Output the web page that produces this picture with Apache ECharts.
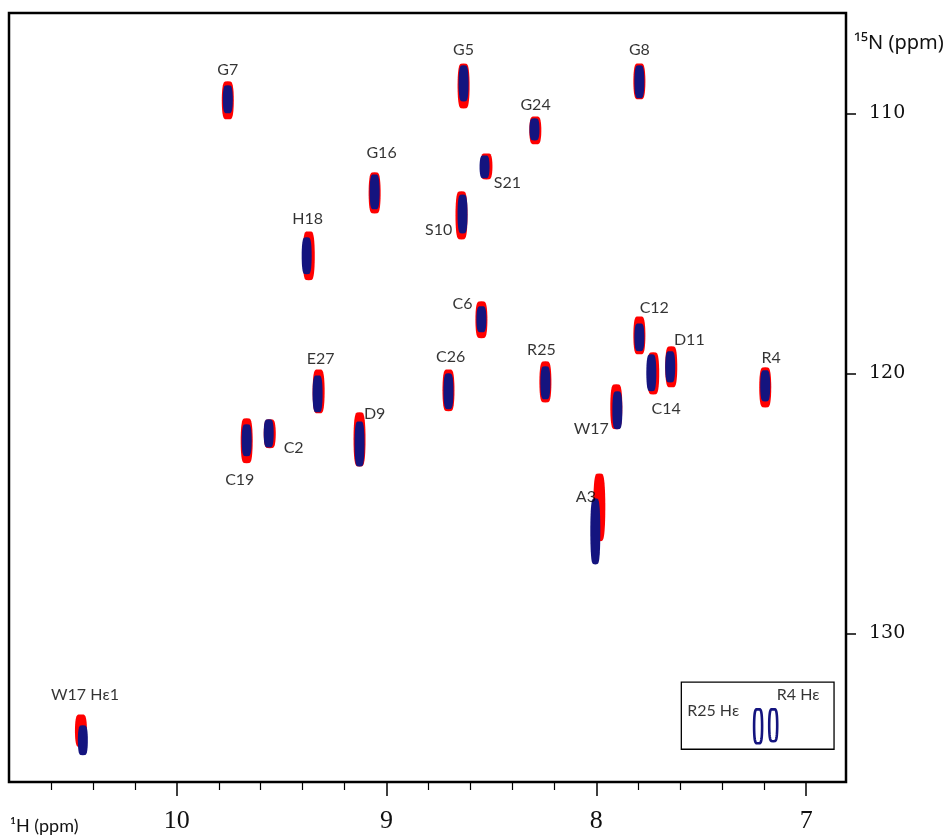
<!DOCTYPE html>
<html>
<head>
<meta charset="utf-8">
<script src="https://cdn.jsdelivr.net/npm/echarts@6/dist/echarts.min.js"></script>
<style>
html,body{margin:0;padding:0;background:#fff;}
#chart{width:952px;height:837px;}
</style>
</head>
<body>
<div id="chart"></div>
<script>
// 1H ppm axis ticks
const xMajorTicks = [7, 8, 9, 10];
const xMinorTicks = [7.2, 7.4, 7.6, 7.8, 8.2, 8.4, 8.6, 8.8, 9.2, 9.4, 9.6, 9.8, 10.2, 10.4, 10.6];
// 15N ppm axis ticks
const yMajorTicks = [110, 120, 130];

// Peak names (residue assignments)
const peakNames = ['G7','G5','G8','G24','S21','G16','S10','H18','C6','C12','D11','C14','R25','R4','C26','E27','W17','C19','C2','D9','A3','W17 Hε1'];

// Red spectrum peaks: [1H ppm, 15N top ppm, 15N bottom ppm]
const redPeaks = [
  [9.757,108.77,110.23],[8.633,108.08,109.81],[7.795,108.08,109.46],[8.291,110.12,111.19],
  [8.524,111.54,112.54],[9.057,112.27,113.85],[8.643,113.0,114.85],[9.371,114.54,116.42],
  [8.548,117.23,118.65],[7.795,117.81,119.27],[7.643,118.96,120.54],[7.729,119.19,120.81],
  [8.243,119.54,121.12],[7.195,119.77,121.31],[8.705,119.85,121.46],[9.324,119.85,121.54],
  [7.905,120.42,122.15],[9.667,121.73,123.46],[9.557,121.77,122.88],[9.129,121.5,123.58],
  [7.986,123.85,126.46],[10.457,133.12,134.38]
];
// Blue spectrum peaks: [1H ppm, 15N top ppm, 15N bottom ppm]
const bluePeaks = [
  [9.757,108.92,110.0],[8.633,108.15,109.54],[7.795,108.15,109.42],[8.295,110.19,111.04],
  [8.533,111.62,112.5],[9.057,112.35,113.69],[8.638,113.12,114.62],[9.381,114.77,116.19],
  [8.548,117.42,118.42],[7.795,118.08,119.15],[7.648,119.15,120.35],[7.738,119.27,120.69],
  [8.243,119.73,121.0],[7.195,119.88,121.08],[8.705,120.0,121.38],[9.329,120.08,121.5],
  [7.9,120.69,122.15],[9.667,121.96,123.19],[9.562,121.77,122.85],[9.129,121.85,123.58],
  [8.005,124.81,127.35],[10.448,133.54,134.69]
];
// Arginine side-chain Hε peaks (inset, blue only)
const insetPeaks = [[7.229,132.92,134.23],[7.157,132.92,134.15]];
// Inset box corners: [1H left, 15N top, 1H right, 15N bottom]
const insetBox = [[7.595,131.88,6.867,134.46]];

// Label texts and anchor positions (ppm)
const labelText = ['G7','G5','G8','G24','S21','G16','S10','H18','C6','C12','D11','C14','R25','R4','C26','E27','W17','C19','C2','D9','A3','W17 Hε1','R25 Hε','R4 Hε'];
const labelX = [9.757,8.633,7.795,8.29,8.424,9.024,8.752,9.376,8.638,7.724,7.557,7.667,8.262,7.167,8.695,9.314,8.024,9.70,9.443,9.057,8.05,10.438,7.443,7.038];
const labelY = [108.31,107.54,107.54,109.69,112.69,111.5,114.5,114.04,117.31,117.5,118.73,121.35,119.08,119.42,119.38,119.46,122.15,124.08,122.85,121.54,124.77,132.38,133.0,132.38];

const RED = '#ff0000';
const BLUE = '#14147f';

function blobRenderer(widthPx, color, hollow) {
  return function (params, api) {
    const x = api.value(0);
    const p1 = api.coord([x, api.value(1)]);
    const p2 = api.coord([x, api.value(2)]);
    const cx = p1[0];
    const cy = (p1[1] + p2[1]) / 2;
    const ry = Math.abs(p2[1] - p1[1]) / 2;
    const rx = widthPx / 2;
    const pts = [];
    const n = 48;
    for (let i = 0; i < n; i++) {
      const t = (i / n) * Math.PI * 2;
      const c = Math.cos(t), s = Math.sin(t);
      pts.push([cx + rx * Math.sign(c) * Math.pow(Math.abs(c), 0.4), cy + ry * s]);
    }
    return {
      type: 'polygon',
      shape: { points: pts },
      style: hollow ? { fill: 'none', stroke: color, lineWidth: 2.6 } : { fill: color }
    };
  };
}

const chart = echarts.init(document.getElementById('chart'), null, { renderer: 'canvas' });

const xCommon = { type: 'value', inverse: true, min: 6.81, max: 10.8, position: 'bottom', splitLine: { show: false }, axisLine: { show: false } };

chart.setOption({
  animation: false,
  backgroundColor: '#ffffff',
  grid: { left: 9, top: 13, right: 106, bottom: 55, show: true, borderColor: '#000', borderWidth: 2.5, backgroundColor: 'transparent' },
  xAxis: [
    Object.assign({}, xCommon, {
      axisTick: { show: true, inside: false, length: 14, customValues: xMajorTicks, lineStyle: { color: '#000', width: 1.5 } },
      axisLabel: { show: true, customValues: xMajorTicks, margin: 26, fontFamily: 'Liberation Serif', fontSize: 26, color: '#111' }
    }),
    Object.assign({}, xCommon, {
      gridIndex: 0,
      axisTick: { show: true, inside: false, length: 8, customValues: xMinorTicks, lineStyle: { color: '#000', width: 1.2 } },
      axisLabel: { show: false }
    })
  ],
  yAxis: {
    type: 'value', inverse: true, position: 'right', min: 106.14, max: 135.72,
    splitLine: { show: false }, axisLine: { show: false },
    axisTick: { show: true, inside: false, length: 10, customValues: yMajorTicks, lineStyle: { color: '#000', width: 1.5 } },
    axisLabel: { show: true, customValues: yMajorTicks, margin: 23, fontFamily: 'DejaVu Serif', fontSize: 19, color: '#111' }
  },
  graphic: [
    { type: 'text', left: 10, top: 817, style: { text: '¹H (ppm)', font: '18px Lato', fill: '#111' } },
    { type: 'text', left: 854, top: 33, style: { text: '¹⁵N (ppm)', font: '20px "Noto Sans"', fill: '#111' } }
  ],
  series: [
    {
      type: 'custom', name: 'red', clip: true,
      renderItem: blobRenderer(12, RED),
      encode: { x: 0, y: [1, 2] },
      data: redPeaks
    },
    {
      type: 'custom', name: 'blue', clip: true,
      renderItem: blobRenderer(10, BLUE),
      encode: { x: 0, y: [1, 2] },
      data: bluePeaks
    },
    {
      type: 'custom', name: 'inset', clip: true,
      renderItem: blobRenderer(8, BLUE, true),
      encode: { x: 0, y: [1, 2] },
      data: insetPeaks
    },
    {
      type: 'custom', name: 'box', clip: true,
      renderItem: function (params, api) {
        const a = api.coord([api.value(0), api.value(1)]);
        const b = api.coord([api.value(2), api.value(3)]);
        return {
          type: 'rect',
          shape: { x: Math.min(a[0], b[0]), y: Math.min(a[1], b[1]), width: Math.abs(b[0] - a[0]), height: Math.abs(b[1] - a[1]) },
          style: { fill: 'none', stroke: '#000', lineWidth: 1.3 }
        };
      },
      encode: { x: [0, 2], y: [1, 3] },
      data: insetBox
    },
    {
      type: 'scatter', name: 'labels', symbolSize: 0, silent: true, z: 10,
      label: { show: true, position: 'inside', formatter: function (p) { return p.name; }, fontFamily: 'Lato', fontSize: 16, color: '#000' },
      data: labelText.map(function (t, i) { return { name: t, value: [labelX[i], labelY[i]] }; })
    }
  ]
});
</script>
</body>
</html>
